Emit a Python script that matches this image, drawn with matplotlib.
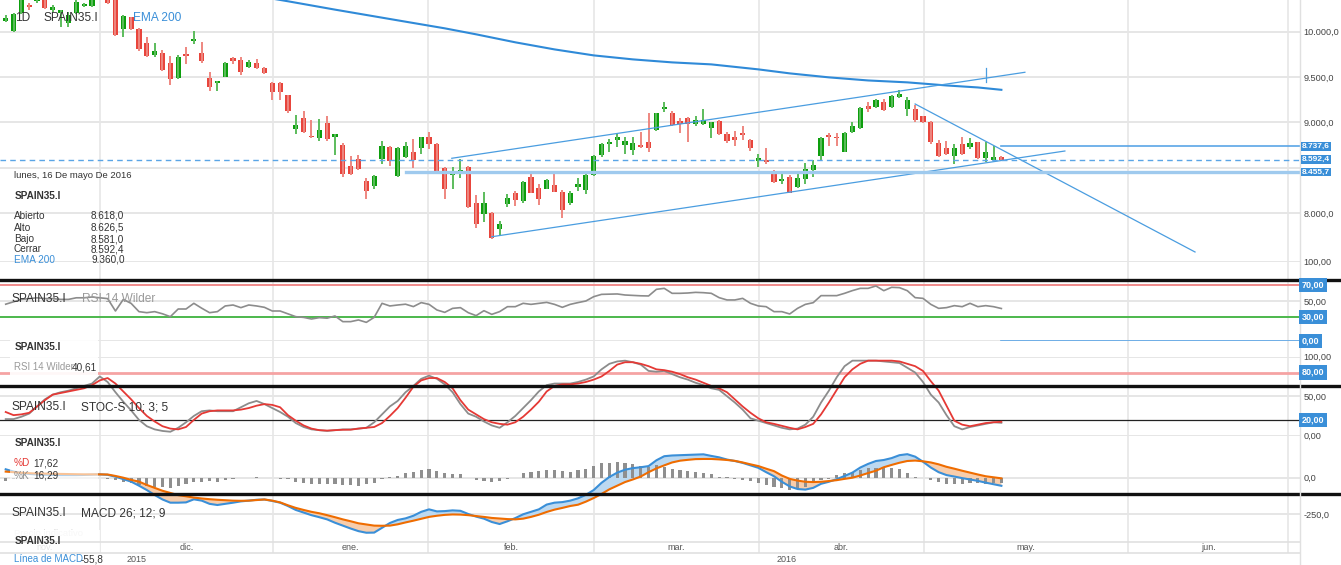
import numpy as np
from matplotlib import pyplot as plt
from matplotlib import transforms
from matplotlib.lines import Line2D
from matplotlib.patches import Rectangle

plt.rcParams['font.family'] = ['Liberation Sans', 'DejaVu Sans']

W, H = 1341, 565          # output size (px)
PLOT_R = 1300             # right edge of the plotting area (px)
XLIM = (-0.727, 165.09)   # bar index range shown

# SPAIN35.I daily candles, mid nov. 2015 -> 16 may 2016
opens = [10114, 10004, 10203, 10291, 10335, 10379, 10236, 10203, 10092, 10203,
         10280, 10280, 10430, 10400, 10368, 10026, 10158, 10026, 9872, 9739,
         9761, 9651, 9486, 9750, 9894, 9761, 9486, 9431, 9497, 9706,
         9684, 9607, 9651, 9596, 9431, 9431, 9298, 8923, 9055, 8846,
         8824, 8989, 8835, 8747, 8526, 8603, 8361, 8305, 8603, 8725,
         8416, 8625, 8680, 8714, 8835, 8758, 8504, 8427, 8438, 8515,
         8118, 7997, 8008, 7831, 8107, 8228, 8140, 8405, 8283, 8272,
         8316, 8239, 8118, 8294, 8261, 8427, 8647, 8758, 8802, 8747,
         8702, 8747, 8780, 8912, 9144, 9100, 9011, 9055, 8978, 8978,
         8934, 9011, 8868, 8835, 8879, 8802, 8581, 8592, 8460, 8361,
         8405, 8294, 8383, 8482, 8636, 8857, 8835, 8680, 8890, 8934,
         9177, 9166, 9221, 9166, 9276, 9144, 9144, 9067, 9000, 8769,
         8714, 8636, 8758, 8725, 8780, 8614, 8592, 8618.0]
highs = [10181, 10203, 10400, 10313, 10390, 10400, 10291, 10236, 10214, 10346,
         10320, 10380, 10470, 10430, 10390, 10180, 10158, 10037, 9938, 9872,
         9794, 9728, 9739, 9828, 10004, 9883, 9552, 9453, 9662, 9717,
         9717, 9684, 9695, 9607, 9442, 9442, 9298, 9088, 9132, 9022,
         9044, 9067, 8868, 8769, 8636, 8647, 8394, 8427, 8791, 8736,
         8725, 8780, 8813, 8840, 8890, 8770, 8515, 8515, 8603, 8526,
         8206, 8239, 8019, 7919, 8217, 8250, 8361, 8471, 8327, 8383,
         8438, 8261, 8250, 8394, 8449, 8647, 8769, 8813, 8868, 8835,
         8835, 8890, 9100, 9105, 9221, 9122, 9055, 9060, 9067, 9144,
         9005, 9033, 8890, 8901, 8956, 8813, 8658, 8714, 8482, 8460,
         8427, 8449, 8559, 8592, 8835, 8879, 8879, 8890, 9000, 9166,
         9221, 9254, 9254, 9298, 9353, 9276, 9188, 9077, 9011, 8802,
         8791, 8758, 8835, 8824, 8785, 8780, 8736, 8626.5]
lows = [10103, 9993, 10192, 10236, 10320, 10245, 10214, 10048, 10048, 10192,
        10270, 10270, 10360, 10302, 9949, 9938, 10015, 9783, 9717, 9717,
        9563, 9408, 9480, 9640, 9861, 9651, 9342, 9342, 9497, 9640,
        9519, 9596, 9590, 9530, 9243, 9243, 9100, 8868, 8879, 8830,
        8801, 8801, 8647, 8405, 8427, 8482, 8162, 8272, 8548, 8526,
        8405, 8614, 8504, 8658, 8703, 8430, 8162, 8272, 8394, 8063,
        7842, 7908, 7720, 7754, 8074, 8085, 8118, 8220, 8096, 8265,
        8230, 7952, 8096, 8250, 8217, 8416, 8625, 8680, 8725, 8658,
        8647, 8720, 8670, 8901, 9111, 8956, 8879, 8780, 8956, 8967,
        8824, 8860, 8769, 8736, 8802, 8691, 8515, 8548, 8339, 8327,
        8220, 8283, 8327, 8405, 8581, 8736, 8736, 8670, 8879, 8923,
        9111, 9155, 9122, 9155, 9270, 9077, 9000, 8989, 8758, 8625,
        8647, 8548, 8647, 8703, 8603, 8570, 8585, 8581.0]
closes = [10147, 10192, 10379, 10269, 10368, 10258, 10269, 10236, 10180, 10324,
          10302, 10357, 10380, 10313, 9960, 10169, 10026, 9806, 9728, 9783,
          9574, 9475, 9717, 9728, 9916, 9673, 9386, 9453, 9651, 9673,
          9552, 9662, 9596, 9541, 9331, 9331, 9132, 8967, 8890, 8835,
          8912, 8813, 8868, 8438, 8438, 8493, 8250, 8416, 8736, 8581,
          8714, 8736, 8592, 8835, 8758, 8438, 8272, 8438, 8482, 8074,
          7886, 8118, 7732, 7886, 8173, 8151, 8350, 8228, 8162, 8372,
          8239, 8041, 8228, 8327, 8427, 8636, 8758, 8780, 8835, 8791,
          8769, 8725, 8714, 9100, 9166, 8967, 8978, 8978, 9022, 9022,
          9000, 8868, 8791, 8802, 8857, 8714, 8614, 8570, 8350, 8383,
          8228, 8394, 8493, 8537, 8824, 8835, 8824, 8879, 8956, 9155,
          9144, 9243, 9133, 9287, 9309, 9243, 9022, 9000, 8780, 8636,
          8658, 8714, 8658, 8769, 8614, 8680, 8625, 8592.4]

# EMA 200, read at a few bars
ema_bars = [30, 36, 42, 50, 56, 60, 65, 70, 75, 80, 85, 90, 96, 100, 105, 110, 115, 120, 124, 127]
ema_vals = [10423, 10335, 10243, 10125, 10037, 9971, 9883, 9805, 9739, 9695,
            9662, 9640, 9585, 9541, 9497, 9463, 9442, 9408, 9386, 9360.0]

rsi = [46, 49, 52, 53, 54, 53, 53, 52, 52, 54,
       54, 55, 54, 53, 37.5, 52, 47, 36.7, 35.4, 36.7,
       34, 30.4, 40, 40, 47.1, 41, 35.4, 36.7, 43.8, 45,
       41.7, 45, 43.8, 42.1, 37.5, 37.5, 34, 30.4, 29.5, 27.5,
       29.2, 28.5, 31.3, 24.2, 24.2, 26.3, 23.3, 29.6, 47.1, 43.8,
       45, 46, 43, 48, 45.8, 38.8, 35.8, 40.8, 41.7, 35.4,
       31.7, 37.9, 33.3, 36.7, 42.9, 42.9, 47.1, 45.8, 47, 48.3,
       45.8, 42.1, 45.8, 48, 50, 55.4, 58.3, 58.5, 58.8, 57.5,
       57, 56.5, 56.3, 64.6, 65.8, 59.6, 59.6, 60, 60.8, 60.4,
       59.6, 54.2, 51.3, 51.3, 53.3, 47.1, 43.8, 42.9, 36.7, 36.7,
       33.8, 40.8, 45.8, 47.9, 56.7, 56.7, 56.7, 59.6, 63, 65.8,
       65.8, 68.8, 62.9, 67.1, 66.7, 62.9, 54.2, 53.3, 45.8, 40.8,
       41.7, 44.2, 42.9, 47.1, 42.9, 44.2, 42.9, 40.61]

stoch_k = [21, 21, 24, 28, 37, 46, 52, 55, 57, 60,
           63, 66, 75, 68, 55, 43, 32, 20, 12, 8,
           6, 5, 10, 17, 25, 31, 32, 31, 31, 31,
           36, 41, 44, 40, 35, 30, 24, 16, 11, 8,
           7, 6, 7, 8, 8, 9, 10, 17, 27, 37,
           44, 55, 63, 72, 76, 72, 65, 55, 40, 28,
           24, 18, 13, 10, 17, 25, 35, 45, 56, 64,
           66, 66, 66, 68, 71, 75, 84, 91, 94, 95,
           93, 90, 82, 81, 82, 78, 74, 71, 67, 64,
           60, 58, 50, 42, 33, 22, 19, 16, 13, 10,
           8, 9, 14, 24, 42, 57, 74, 88, 95, 95,
           95, 95, 94, 93, 92, 86, 80, 68, 52, 42,
           26, 12, 8, 11, 13, 15, 17, 16.29]
stoch_d = [30, 26, 27, 29, 37, 45, 52, 54, 56, 58,
           60, 64, 70, 73, 66, 56, 46, 35, 25, 18,
           12, 9, 8, 11, 20, 28, 31, 32, 32, 32,
           33, 35, 38, 40, 39, 36, 26, 19, 13, 9,
           7, 6.5, 7, 7.5, 7.6, 9, 10, 11, 16, 25,
           35, 48, 62, 70, 73, 73, 68, 60, 45, 33,
           27, 21, 17, 15, 14, 17, 24, 33, 43, 56,
           63, 65, 65, 66, 68, 71, 75, 82, 90, 93,
           93, 91, 88, 84, 83, 81, 78, 74, 71, 67,
           63, 60, 55, 46, 37, 29, 22, 17, 15, 12.5,
           10, 8, 11, 15, 27, 42, 58, 74, 84, 91,
           95, 95, 95, 95, 94, 91, 88, 82, 69, 57,
           38, 19, 14, 12, 14, 16, 17, 17.62]

macd = [58, 42, 32, 26, 22, 20, 19, 18, 18, 18,
        19, 21, 23, 20, 7, -10, -27, -55, -85, -119,
        -150, -172, -172, -170, -149, -158, -180, -188, -180, -172,
        -163, -158, -152, -150, -160, -172, -195, -222, -240, -258,
        -272, -287, -310, -330, -350, -368, -379, -378, -345, -312,
        -291, -280, -262, -235, -218, -232, -230, -225, -228, -250,
        -268, -282, -305, -319, -300, -278, -252, -235, -218, -185,
        -172, -168, -158, -142, -118, -85, -35, 5, 35, 55,
        66, 72, 80, 120, 148, 153, 155, 157, 159, 161,
        150, 140, 125, 115, 102, 85, 68, 38, 10, -28,
        -60, -78, -82, -70, -42, -28, -10, 12, 35, 70,
        95, 115, 122, 135, 155, 162, 145, 110, 70, 38,
        18, 8, -3, -12, -22, -34, -45, -55.8]
macd_signal = [42, 38, 34, 31, 29, 28, 27, 26, 25, 24,
               23, 23, 23, 22, 12, 0, -15, -27, -50, -70,
               -90, -105, -120, -128, -137, -143, -148, -152, -155, -158,
               -159, -158, -154, -150, -158, -170, -190, -208, -222, -235,
               -245, -258, -272, -287, -300, -314, -322, -330, -331, -330,
               -321, -308, -296, -283, -270, -262, -256, -253, -254, -258,
               -264, -270, -277, -281, -285, -287, -282, -270, -255, -236,
               -220, -208, -195, -186, -165, -140, -112, -80, -55, -30,
               -12, 8, 38, 64, 85, 105, 117, 123, 128, 129,
               129, 126, 122, 116, 105, 92, 80, 62, 45, 15,
               -8, -20, -28, -30, -28, -23, -17, -8, 0, 15,
               32, 48, 72, 88, 103, 115, 118, 113, 105, 92,
               75, 62, 48, 35, 22, 10, 3, -4.4]
macd_hist = [-25, -12, -6, -4, -3, -2, -2, -4, -5, -5,
             -4, -2, 0, -6, -16, -27, -39, -50, -57, -62,
             -67, -73, -57, -43, -27, -27, -21, -27, -16, -7,
             -3, 0, 2, -2, -4, -7, -9, -27, -39, -43,
             -43, -43, -43, -50, -50, -55, -43, -35, -9, 5,
             14, 35, 41, 53, 58, 46, 30, 23, 23, -2,
             -16, -21, -27, -21, -9, 0, 30, 39, 46, 53,
             53, 49, 41, 53, 58, 80, 99, 103, 110, 103,
             92, 80, 76, 87, 76, 60, 53, 46, 41, 35,
             23, 7, 2, -9, -16, -23, -39, -50, -62, -73,
             -85, -80, -62, -39, -16, -9, 18, 30, 41, 53,
             64.5, 69, 64.5, 64.5, 60, 35, 7, 0, -16, -32,
             -46, -46, -46, -39, -39, -43, -39, -39]

month_names = ['nov.', 'dic.', 'ene.', 'feb.', 'mar.', 'abr.', 'may.', 'jun.']
month_starts = [-2.0, 12.0, 34.1, 53.9, 75.0, 96.1, 117.1, 143.2, 163.6]
year_names = ['2015', '2016']

# objects drawn by the user on the price chart (bar, price)
channel_top = [(56.9, 8606), (130.0, 9553)]
channel_bottom = [(62.0, 7742), (135.1, 8686)]
down_line = [(116.0, 9204), (151.7, 7574)]
cursor_mark = [(125.1, 9446), (125.1, 9600)]
level_hi = 8737.6
level_lo = 8455.7
level_lo_start = 51

GREEN = '#0d9e0d'
RED = '#e8453c'
BLUE = '#3a8fd8'
GRID = '#e6e6e6'
DARK = '#333333'


def es(v, dec):
    s = f"{v:,.{dec}f}"
    return s.replace(',', '#').replace('.', ',').replace('#', '.')


def fy(py):
    return 1 - py / H


def add_panel(fig, top, bottom, ylim, yticks, dec, hidden=()):
    ax = fig.add_axes([0, fy(bottom), PLOT_R / W, (bottom - top) / H])
    ax.set_facecolor('none')
    ax.set_xlim(*XLIM)
    ax.set_ylim(*ylim)
    for s in ax.spines.values():
        s.set_visible(False)
    ax.set_xticks([])
    ax.yaxis.tick_right()
    ax.set_yticks(yticks)
    # labels sitting under a value tag are not shown
    ax.set_yticklabels(['' if t in hidden else es(t, dec) for t in yticks])
    ax.tick_params(axis='y', length=0, pad=2.5, labelsize=6.6, labelcolor='#444')
    ax.grid(axis='y', color=GRID, lw=1.4)
    ax.set_axisbelow(True)
    return ax


def txt(fig, px, py, s, **kw):
    kw.setdefault('color', DARK)
    kw.setdefault('fontsize', 7.2)
    return fig.text(px / W, fy(py), s, va='center', ha='left', **kw)


def tag(fig, ax, v, s, size=6.5, pad=0.3):
    tr = transforms.blended_transform_factory(fig.transFigure, ax.transData)
    fig.text(1302 / W, v, s, transform=tr, va='center', ha='left', color='white',
             fontsize=size, fontweight='bold', zorder=4,
             bbox=dict(boxstyle=f'square,pad={pad}', fc=BLUE, ec='none'))


def hline(fig, py, x0=0, x1=1, **kw):
    fig.add_artist(Line2D([x0, x1], [fy(py), fy(py)], transform=fig.transFigure, **kw))


fig = plt.figure(figsize=(W / 100, H / 100), dpi=100, facecolor='white')

# month separators behind everything
bg = fig.add_axes([0, fy(553), PLOT_R / W, 553 / H])
bg.set_xlim(*XLIM)
bg.set_ylim(0, 1)
bg.axis('off')
for m in month_starts[1:]:
    bg.axvline(m, color=GRID, lw=1.2)

x = np.arange(len(closes))

# ---- price panel ----
ax = add_panel(fig, 0, 280, (7265.5, 10349), [8000, 8500, 9000, 9500, 10000], 1, hidden=(8500,))
o, h, l, c = map(np.array, (opens, highs, lows, closes))
up = c >= o
ax.vlines(x, l, h, colors=np.where(up, '#5cbc5c', '#ee8780'), lw=1.4)
ax.bar(x, np.maximum(np.abs(c - o), 8), bottom=np.minimum(o, c), width=0.66,
       color=np.where(up, GREEN, RED))
ax.plot(ema_bars, ema_vals, color='#2f8ad8', lw=1.5)
for seg in (channel_top, channel_bottom, down_line, cursor_mark):
    ax.plot(*zip(*seg), color='#4a9de0', lw=0.9)
ax.plot(XLIM, [closes[-1]] * 2, color='#5aa5e6', lw=1, ls=(0, (4, 3)))
ax.plot([x[-1], XLIM[1]], [level_hi] * 2, color='#5aa5e6', lw=1.2)
ax.plot([level_lo_start, XLIM[1]], [level_lo] * 2, color='#9fcaee', lw=2.4)

# ---- RSI panel ----
ax_rsi = add_panel(fig, 261, 341, (0, 100), [0, 50, 100], 2, hidden=(0,))
ax_rsi.axhline(70, color='#f08a8a', lw=1.4)
ax_rsi.axhline(30, color='#4cb84c', lw=1.4)
ax_rsi.plot(x, rsi, color='#8c8c8c', lw=1.2)
ax_rsi.plot([x[-1], XLIM[1]], [0, 0], color='#5aa5e6', lw=1.2)

# ---- stochastic panel ----
ax_st = add_panel(fig, 356.7, 435.7, (0, 100), [0, 50, 100], 2)
ax_st.axhline(80, color='#f5a3a3', lw=2)
ax_st.axhline(20, color='#222222', lw=0.9)
ax_st.plot(x, stoch_k, color='#8c8c8c', lw=1.3)
ax_st.plot(x, stoch_d, color='#e53935', lw=1.3)

# ---- MACD panel ----
ax_m = add_panel(fig, 440, 540, (-429, 259.6), [-250, 0], 1)
mc, sg = np.array(macd), np.array(macd_signal)
ax_m.fill_between(x, mc, sg, where=mc >= sg, interpolate=True, color='#bcd9f1', lw=0)
ax_m.fill_between(x, mc, sg, where=mc < sg, interpolate=True, color='#f8cdab', lw=0)
ax_m.bar(x, macd_hist, width=0.4, color='#8f8f8f', zorder=2)
ax_m.plot(x, mc, color='#3a8fd8', lw=1.5, zorder=3)
ax_m.plot(x, sg, color='#ef6c00', lw=1.5, zorder=3)

# ---- layout lines ----
for py in (280, 386, 494):
    hline(fig, py, color='#111111', lw=2.4)
hline(fig, 542, 0, PLOT_R / W, color='#e0e0e0', lw=1.2)
hline(fig, 553, 0, PLOT_R / W, color='#e0e0e0', lw=1.2)
fig.add_artist(Line2D([PLOT_R / W] * 2, [0, 1], transform=fig.transFigure, color='#e0e0e0', lw=1))

# ---- time axis labels ----
trx = transforms.blended_transform_factory(bg.transData, fig.transFigure)
for i, name in enumerate(month_names):
    mid = (month_starts[i] + month_starts[i + 1]) / 2
    bg.text(mid, fy(548), name, transform=trx, ha='center', va='center',
            fontsize=6.5, color='#555555', zorder=0.5)
year_mid = [(XLIM[0] + month_starts[2]) / 2, (month_starts[2] + XLIM[1]) / 2]
for xm, name in zip(year_mid, year_names):
    bg.text(xm, fy(559), name, transform=trx, ha='center', va='center',
            fontsize=6.5, color='#555555')

# ---- right axis tags ----
for v in (level_lo, closes[-1], level_hi):
    tag(fig, ax, v, es(v, 1), size=6.0, pad=0.1)
for v in (70, 30, 0):
    tag(fig, ax_rsi, v, es(v, 2))
for v in (80, 20):
    tag(fig, ax_st, v, es(v, 2))

# ---- titles ----
txt(fig, 15, 18, '1D', fontsize=8.6)
txt(fig, 43, 18, 'SPAIN35.I', fontsize=8.6)
txt(fig, 133, 18, 'EMA 200', fontsize=8.6, color=BLUE)
txt(fig, 12, 299, 'SPAIN35.I', fontsize=8.6)
txt(fig, 82, 299, 'RSI 14 Wilder', fontsize=8.6, color='#9a9a9a')
txt(fig, 12, 407, 'SPAIN35.I', fontsize=8.6)
txt(fig, 81, 407, 'STOC-S 10; 3; 5', fontsize=8.6)
txt(fig, 12, 513, 'SPAIN35.I', fontsize=8.6)
txt(fig, 81, 513, 'MACD 26; 12; 9', fontsize=8.6)

# ---- data window ----
txt(fig, 14, 175, 'lunes, 16 De mayo De 2016', fontsize=6.8)
txt(fig, 15, 196, 'SPAIN35.I', fontweight='bold')
info_rows = [('Abierto', opens[-1]), ('Alto', highs[-1]), ('Bajo', lows[-1]),
             ('Cerrar', closes[-1]), ('EMA 200', ema_vals[-1])]
for k, (name, v) in enumerate(info_rows):
    py = [216, 228, 239, 249, 260][k]
    txt(fig, 14, py, name, color=BLUE if name == 'EMA 200' else DARK)
    txt(fig, 91, py, es(v, 1))

txt(fig, 14, 533, 'Precio indicativo', color='#d0d0d0', fontsize=6.8, zorder=0.5)
for (x0, y0, x1, y1, a) in [(10, 338, 98, 376, 0.92), (10, 436, 98, 482, 0.6), (10, 530, 100, 565, 0.85)]:
    fig.add_artist(Rectangle((x0 / W, fy(y1)), (x1 - x0) / W, (y1 - y0) / H,
                             transform=fig.transFigure, fc='white', ec='none', alpha=a))

txt(fig, 15, 347, 'SPAIN35.I', fontweight='bold')
txt(fig, 14, 367, 'RSI 14 Wilder', color='#9a9a9a', fontsize=7)
txt(fig, 72, 367, es(rsi[-1], 2))
txt(fig, 15, 443, 'SPAIN35.I', fontweight='bold')
txt(fig, 14, 463, '%D', color='#e53935')
txt(fig, 33, 463, es(stoch_d[-1], 2))
txt(fig, 14, 476, '%K', color='#8c8c8c')
txt(fig, 33, 476, es(stoch_k[-1], 2))
txt(fig, 15, 541, 'SPAIN35.I', fontweight='bold')
txt(fig, 14, 559, 'Línea de MACD', color=BLUE, fontsize=7)
txt(fig, 81, 559, es(macd[-1], 1))

fig.savefig('out.png', dpi=100, facecolor='white')
